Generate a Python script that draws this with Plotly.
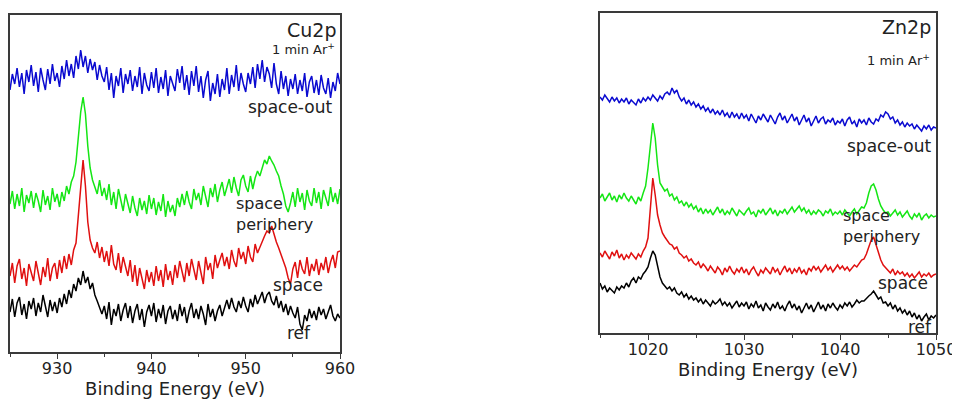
import plotly.graph_objects as go

# ---------------- data ----------------
cu_start, cu_step = 925.0, 0.25
zn_start, zn_step = 1015.0, 0.25

cu_space_out = [
    262, 278, 268, 284, 265, 279, 258, 282, 270, 287,
    266, 280, 260, 284, 272, 262, 283, 268, 288, 271,
    279, 265, 286, 273, 292, 276, 288, 274, 296, 283,
    302, 285, 296, 279, 293, 282, 290, 272, 287, 276,
    270, 285, 262, 279, 254, 276, 266, 284, 259, 278,
    268, 282, 261, 276, 265, 285, 258, 279, 267, 261,
    280, 264, 284, 259, 275, 263, 282, 256, 276, 268,
    261, 283, 269, 286, 262, 277, 257, 281, 266, 286,
    260, 276, 254, 272, 281, 251, 269, 258, 278, 255,
    273, 262, 284, 258, 277, 265, 287, 261, 279, 268,
    260, 279, 268, 285, 264, 288, 273, 292, 270, 285,
    278, 264, 289, 268, 258, 281, 263, 276, 256, 273,
    263, 278, 258, 272, 261, 279, 255, 270, 276, 259,
    272, 257, 277, 264, 258, 274, 254, 270, 261, 279,
    268]
cu_periphery = [
    148, 161, 143, 158, 146, 164, 140, 157, 149, 161,
    144, 159, 151, 140, 162, 147, 156, 142, 164, 150,
    158, 145, 160, 151, 166, 158, 170, 176, 190, 216,
    240, 255, 238, 206, 184, 172, 165, 158, 172, 156,
    164, 152, 168, 147, 160, 143, 163, 150, 141, 158,
    147, 139, 156, 144, 136, 154, 142, 151, 138, 157,
    143, 154, 137, 150, 141, 158, 135, 151, 140, 147,
    136, 154, 145, 158, 147, 161, 150, 143, 163, 152,
    159, 147, 166, 154, 145, 164, 155, 168, 150, 162,
    170, 156, 166, 173, 159, 175, 164, 156, 172, 177,
    166, 160, 176, 163, 174, 181, 176, 185, 192, 188,
    196, 191, 187, 181, 176, 166, 158, 146, 140, 149,
    160, 145, 164, 150, 159, 142, 162, 151, 146, 164,
    149, 160, 143, 162, 153, 146, 165, 150, 159, 148,
    163]
cu_space = [
    76, 89, 69, 86, 93, 73, 84, 66, 88, 78,
    71, 91, 80, 67, 85, 75, 94, 71, 84, 89,
    73, 92, 79, 96, 83, 98, 87, 102, 109, 136,
    170, 192, 166, 130, 112, 104, 99, 110, 94, 105,
    90, 101, 86, 107, 88, 82, 99, 79, 95, 84,
    76, 92, 70, 87, 66, 84, 74, 63, 82, 70,
    80, 66, 86, 71, 82, 65, 88, 72, 81, 67,
    87, 74, 91, 79, 70, 89, 76, 93, 81, 72,
    91, 78, 68, 95, 82, 89, 73, 97, 84, 92,
    99, 86, 95, 83, 102, 91, 85, 104, 93, 100,
    88, 106, 95, 90, 108, 99, 105, 112, 116, 121,
    119, 126, 117, 110, 104, 98, 90, 84, 74, 68,
    83, 90, 74, 92, 83, 78, 95, 76, 88, 81,
    93, 77, 89, 82, 95, 79, 90, 97, 84, 100,
    101]
cu_ref = [
    40, 53, 35, 49, 55, 37, 48, 33, 51, 43,
    54, 36, 49, 40, 57, 44, 35, 52, 41, 50,
    39, 54, 45, 58, 48, 62, 54, 68, 61, 74,
    67, 81, 69, 75, 63, 69, 57, 51, 44, 38,
    46, 33, 50, 27, 43, 36, 48, 31, 42, 49,
    34, 46, 29, 41, 48, 32, 43, 25, 40, 47,
    36, 49, 30, 43, 34, 47, 28, 41, 46, 33,
    42, 31, 48, 36, 45, 29, 41, 49, 34, 43,
    33, 46, 38, 27, 48, 35, 43, 31, 41, 47,
    36, 44, 52, 43, 54, 45, 40, 51, 44, 55,
    46, 40, 53, 45, 57, 48, 54, 60, 49, 57,
    60, 51, 47, 56, 44, 51, 40, 48, 37, 46,
    39, 34, 45, 28, 22, 37, 31, 43, 34, 41,
    32, 45, 37, 43, 33, 40, 47, 36, 31, 38,
    34]

zn_space_out = [
    236, 233, 238, 234, 231, 236, 232, 235, 230, 234,
    231, 235, 229, 233, 230, 228, 234, 230, 235, 232,
    236, 233, 238, 235, 232, 237, 234, 239, 241, 238,
    245, 240, 243, 236, 232, 235, 229, 233, 228, 231,
    226, 229, 224, 227, 222, 225, 220, 224, 219, 222,
    218, 223, 217, 220, 215, 221, 216, 219, 214, 220,
    215, 218, 212, 219, 214, 210, 217, 213, 219, 215,
    211, 218, 214, 209, 216, 220, 213, 217, 210, 215,
    219, 212, 216, 208, 214, 218, 211, 215, 207, 213,
    217, 210, 214, 216, 209, 213, 211, 215, 208, 212,
    210, 214, 207, 213, 216, 209, 212, 206, 214, 210,
    213, 208, 215, 211, 209, 214, 212, 218, 216, 221,
    219, 214, 216, 210, 213, 208, 211, 206, 210, 207,
    209, 204, 208, 205, 202, 207, 204, 208, 203, 206,
    205]
zn_periphery = [
    135, 139, 132, 136, 140, 133, 137, 131, 138, 134,
    140, 135, 132, 137, 133, 129, 136, 132, 140, 147,
    165, 190, 210, 195, 168, 150, 146, 142, 144, 137,
    139, 133, 136, 130, 132, 127, 131, 126, 129, 124,
    127, 121, 125, 119, 124, 120, 123, 118, 122, 126,
    120, 124, 118, 122, 119, 125, 121, 117, 123, 120,
    118, 122, 125, 119, 121, 116, 123, 120, 124, 118,
    121, 125, 119, 123, 117, 122, 120, 124, 119, 122,
    126, 121, 124, 127, 122, 125, 120, 123, 118, 122,
    119, 123, 121, 117, 122, 120, 124, 118, 121, 119,
    122, 118, 123, 120, 117, 121, 124, 119, 122, 126,
    125, 130, 140, 147, 149, 143, 134, 127, 123, 120,
    121, 117, 120, 123, 118, 121, 116, 119, 122, 117,
    114, 119, 116, 120, 113, 117, 119, 115, 118, 116,
    117]
zn_space = [
    80, 76, 82, 78, 74, 81, 77, 83, 75, 79,
    73, 78, 75, 80, 77, 74, 79, 76, 82, 86,
    95, 125, 155, 138, 118, 108, 100, 96, 92, 89,
    88, 84, 86, 80, 78, 75, 77, 72, 74, 70,
    68, 71, 65, 69, 66, 62, 67, 64, 60, 66,
    63, 58, 65, 61, 67, 62, 59, 64, 61, 66,
    60, 64, 58, 63, 66, 61, 57, 63, 60, 65,
    62, 59, 66, 61, 64, 58, 63, 67, 61, 65,
    59, 64, 61, 66, 60, 63, 58, 65, 62, 67,
    63, 66, 61, 64, 68, 63, 66, 61, 65, 68,
    64, 67, 63, 66, 62, 65, 68, 66, 70, 73,
    74, 79, 86, 93, 96, 88, 79, 73, 68, 65,
    63, 60, 64, 58, 62, 59, 61, 57, 60, 56,
    59, 55, 58, 61, 56, 59, 57, 60, 56, 58,
    59]
zn_ref = [
    50, 44, 47, 41, 45, 42, 40, 46, 43, 47,
    45, 50, 46, 52, 55, 50, 56, 54, 59, 62,
    66, 75, 82, 78, 68, 56, 50, 47, 44, 46,
    42, 45, 40, 38, 41, 36, 39, 34, 37, 33,
    35, 31, 34, 29, 33, 30, 27, 32, 29, 31,
    34, 28, 31, 27, 30, 25, 29, 32, 26, 30,
    27, 31, 24, 29, 26, 32, 25, 28, 22, 30,
    26, 23, 29, 25, 31, 24, 27, 22, 28, 32,
    25, 29, 23, 27, 20, 26, 30, 24, 28, 21,
    27, 31, 24, 28, 22, 29, 25, 30, 26, 23,
    28, 25, 30, 27, 31, 26, 29, 33, 30, 32,
    32, 35, 37, 39, 42, 38, 34, 36, 30, 31,
    27, 30, 24, 28, 22, 25, 20, 23, 18, 22,
    16, 20, 14, 18, 12, 16, 19, 13, 17, 15,
    18]

cu_ticks = [930, 940, 950, 960]
zn_ticks = [1020, 1030, 1040, 1050]
series_names = ["space-out", "space periphery", "space", "ref"]
colors = ["#0a0ad0", "#14e614", "#e01010", "#000000"]

cu_x = [cu_start + cu_step * i for i in range(len(cu_ref))]
zn_x = [zn_start + zn_step * i for i in range(len(zn_ref))]

# ---------------- figure ----------------
# the page body has an 8px margin, so the figure is drawn 8px in from the
# window's top-left corner; positions below are given in window pixels.
OFF = 8
W, H = 960 - OFF, 399 - OFF
fig = go.Figure()

for name, ys, col in zip(series_names, [cu_space_out, cu_periphery, cu_space, cu_ref], colors):
    fig.add_trace(go.Scatter(x=cu_x, y=ys, mode="lines", name=name,
                             line=dict(color=col, width=1.5),
                             xaxis="x", yaxis="y", showlegend=False))
for name, ys, col in zip(series_names, [zn_space_out, zn_periphery, zn_space, zn_ref], colors):
    fig.add_trace(go.Scatter(x=zn_x, y=ys, mode="lines", name=name,
                             line=dict(color=col, width=1.5),
                             xaxis="x2", yaxis="y2", showlegend=False))

def px(x):
    return (x - OFF) / W

def py(y):
    return 1 - (y - OFF) / H

FONT = "DejaVu Sans, Liberation Sans, Arial, sans-serif"
axis_line = dict(showline=True, mirror=True, linecolor="#3a3a3a", linewidth=1.5,
                 showgrid=False, zeroline=False)
tickfont = dict(family=FONT, size=16, color="#222")
titlefont = dict(family=FONT, size=18, color="#222")

fig.update_layout(
    width=W, height=H,
    margin=dict(l=0, r=0, t=0, b=0),
    paper_bgcolor="white", plot_bgcolor="white",
    xaxis=dict(domain=[px(10), px(340)], range=[925, 960], tickvals=cu_ticks,
               ticks="outside", ticklen=5, tickwidth=1.2, tickcolor="#3a3a3a",
               ticklabelstandoff=-4,
               minor=dict(dtick=5, tick0=925, ticks="outside", ticklen=3, tickcolor="#3a3a3a"),
               tickfont=tickfont, anchor="y", automargin=False,
               title=dict(text="Binding Energy (eV)", font=titlefont, standoff=20),
               **axis_line),
    yaxis=dict(domain=[py(352), py(15)], range=[0, 337], showticklabels=False,
               ticks="", anchor="x", automargin=False, **axis_line),
    xaxis2=dict(domain=[px(600), px(936)], range=[1015, 1050], tickvals=zn_ticks,
                ticks="outside", ticklen=5, tickwidth=1.2, tickcolor="#3a3a3a",
                ticklabelstandoff=-4,
                minor=dict(dtick=5, tick0=1015, ticks="outside", ticklen=3, tickcolor="#3a3a3a"),
                tickfont=tickfont, anchor="y2", automargin=False,
                title=dict(text="Binding Energy (eV)", font=titlefont, standoff=0),
                **axis_line),
    yaxis2=dict(domain=[py(333), py(13)], range=[0, 320], showticklabels=False,
                ticks="", anchor="x2", automargin=False, **axis_line),
)

def ann(text, x, y, xanchor, size):
    fig.add_annotation(text=text, x=px(x), y=py(y), xref="paper", yref="paper",
                       xanchor=xanchor, yanchor="middle", align=xanchor,
                       showarrow=False,
                       font=dict(size=size, family=FONT, color="#222"))

# left panel labels
ann("Cu2p", 338, 30, "right", 19)
ann("1 min Ar<sup>+</sup>", 337, 49, "right", 13)
ann("space-out", 334, 107, "right", 17)
ann("space<br>periphery", 234, 214, "left", 16)
ann("space", 271, 285, "left", 17)
ann("ref", 285, 333, "left", 17)

# right panel labels
ann("Zn2p", 933, 27, "right", 19)
ann("1 min Ar<sup>+</sup>", 932, 60, "right", 13)
ann("space-out", 933, 146, "right", 17)
ann("space<br>periphery", 841, 226, "left", 16)
ann("space", 876, 283, "left", 17)
ann("ref", 906, 327, "left", 17)

fig.write_html("out.html")
